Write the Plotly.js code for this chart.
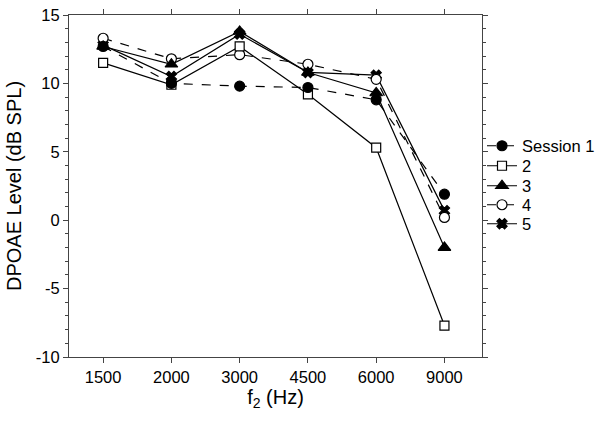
<!DOCTYPE html>
<html>
<head>
<meta charset="utf-8">
<script src="https://cdn.plot.ly/plotly-3.0.1.min.js"></script>
<style>html,body{margin:0;padding:0;background:#fff;}#chart{width:601px;height:422px;}</style>
</head>
<body>
<div id="chart"></div>
<script>
const freqs = ['1500', '2000', '3000', '4500', '6000', '9000'];
const session1 = [12.7, 10.0, 9.8, 9.7, 8.8, 1.9];
const session2 = [11.5, 9.9, 12.7, 9.2, 5.3, -7.7];
const session3 = [12.7, 11.4, 13.8, 10.8, 9.3, -2.0];
const session4 = [13.3, 11.8, 12.1, 11.4, 10.3, 0.2];
const session5 = [12.8, 10.5, 13.6, 10.8, 10.6, 0.7];
const names = ['Session 1', '2', '3', '4', '5'];
const yTickVals = [-10, -5, 0, 5, 10, 15];
const yTickText = ['-10', '-5', '0', '5', '10', '15'];

const series = [session1, session2, session3, session4, session5];
const symbols = ['circle', 'square', 'triangle-up', 'circle', 'x'];
const fills = ['#000', '#fff', '#000', '#fff', '#000'];
const dashes = ['dash', 'solid', 'solid', 'dash', 'solid'];
const sizes = [10, 9, 11, 10, 9];
const legendKeys = ['legend', 'legend2', 'legend3', 'legend4', 'legend5'];

const traces = series.map((ys, i) => ({
  x: freqs, y: ys, name: names[i], type: 'scatter', mode: 'lines+markers',
  legend: legendKeys[i],
  line: {color: '#000', width: 1.2, dash: dashes[i]},
  marker: {symbol: symbols[i], size: sizes[i], color: fills[i],
           line: {color: '#000', width: 1.2}}
}));
traces.reverse();

const W = 601, H = 422;
const legendRowsPx = [146, 166, 186, 205, 224];

const layout = {
  width: W, height: H,
  margin: {l: 69, r: 119, t: 15, b: 65},
  paper_bgcolor: '#fff', plot_bgcolor: '#fff',
  font: {family: 'Liberation Sans, Arial, sans-serif', color: '#000', size: 16},
  showlegend: true,
  xaxis: {type: 'category', range: [-0.5, 5.55], showline: true, linecolor: '#444', linewidth: 1,
          mirror: 'allticks', ticks: 'outside', ticklen: 5, tickcolor: '#444', showgrid: false, zeroline: false,
          tickfont: {size: 16.5},
          title: {text: 'f<sub>2</sub> (Hz)', font: {size: 20}, standoff: 5}},
  yaxis: {range: [-10, 15], tickvals: yTickVals, ticktext: yTickText, showline: true, linecolor: '#444', linewidth: 1,
          mirror: 'allticks', ticks: 'outside', ticklen: 5, tickcolor: '#444', showgrid: false, zeroline: false,
          tickfont: {size: 16.5},
          minor: {dtick: 1, ticks: 'outside', ticklen: 3, tickcolor: '#444', showgrid: false},
          title: {text: 'DPOAE Level (dB SPL)', font: {size: 20}, standoff: 8}}
};
legendKeys.forEach((k, i) => {
  layout[k] = {xref: 'container', yref: 'container', x: 482 / W, xanchor: 'left',
               y: 1 - legendRowsPx[i] / H, yanchor: 'middle',
               font: {size: 16.5}, itemwidth: 30, bgcolor: 'rgba(0,0,0,0)', borderwidth: 0};
});
Plotly.newPlot('chart', traces, layout, {displayModeBar: false, staticPlot: true});
</script>
</body>
</html>
